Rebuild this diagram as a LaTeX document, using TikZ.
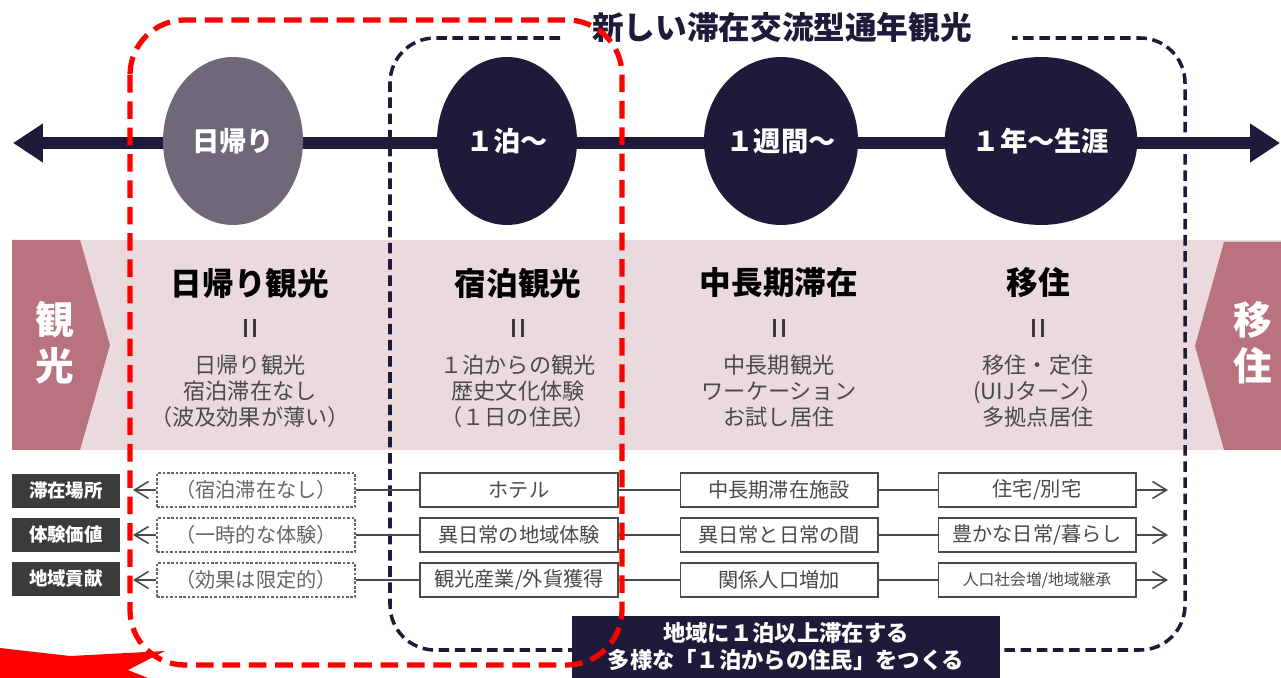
\documentclass[tikz,border=0pt]{standalone}
\usepackage{fontspec}
\setmainfont{Noto Sans CJK JP}
\usetikzlibrary{positioning,shapes.geometric,arrows.meta}

\definecolor{navy}{HTML}{1E1B3A}
\definecolor{dusk}{HTML}{6E6878}
\definecolor{band}{HTML}{EADADE}
\definecolor{rose}{HTML}{B8737F}
\definecolor{tag}{HTML}{3B3B3B}
\definecolor{ink}{HTML}{4A4A4A}

\newcommand{\eqbar}{\rule{1.6pt}{10pt}\hspace{3.6pt}\rule{1.6pt}{10pt}}

\begin{document}
\begin{tikzpicture}
    [x = 0.02cm, y = -0.02cm,
     stage/.style = {ellipse, fill = navy, minimum width = 2.8cm, minimum height = 3.36cm,
       inner sep = 0pt, text = white, font = \fontsize{15.5}{18}\selectfont\bfseries},
     head/.style = {text = black, font = \fontsize{18}{21}\selectfont\bfseries},
     eqsign/.style = {text = tag, inner sep = 0pt},
     desc/.style = {align = center, text = ink, font = \fontsize{12.6}{14.8}\selectfont},
     side/.style = {align = center, text = white, font = \fontsize{22}{26}\selectfont\bfseries},
     tagbox/.style = {fill = tag, text = white, minimum width = 2.16cm, minimum height = 0.68cm,
       inner sep = 0pt, font = \fontsize{10.5}{12}\selectfont\bfseries},
     cell/.style = {draw = ink, line width = 0.6pt, fill = white, minimum width = 3.96cm,
       minimum height = 0.68cm, inner sep = 0pt, text = ink, font = \fontsize{11.5}{13}\selectfont},
     ghost/.style = {cell, draw = gray!80!black, dash pattern = on 1.5pt off 1pt, text = gray!80!black},
     link/.style = {draw = ink, line width = 0.9pt},
     barb/.style = {-{Straight Barb[length = 2.8mm, width = 3.4mm]}},
     banner/.style = {fill = navy, text = white, align = center, minimum width = 8.56cm,
       minimum height = 1.26cm, inner sep = 0pt, font = \fontsize{12.7}{15.4}\selectfont\bfseries}]
    \useasboundingbox (0,0) rectangle (1281,678);

    % pink band and side chevrons
    \fill[band] (12,240) rectangle (1281,450);
    \fill[rose] (12,240) -- (80,240) -- (110,345) -- (80,450) -- (12,450) -- cycle;
    \fill[rose] (1224,242) -- (1281,242) -- (1281,450) -- (1224,450) -- (1195,346) -- cycle;
    \node[side] (tour) at (55,343) {観\\光};
    \node[side] (move) at (1253,343) {移\\住};

    % timeline
    \coordinate (west) at (13,143);
    \coordinate (east) at (1280,143);
    \draw[navy, line width = 6.5pt,
      {Triangle[length = 0.6cm, width = 0.74cm]}-{Triangle[length = 0.6cm, width = 0.74cm]}]
      (west) -- (east);
    \node[stage, fill = dusk] (day) at (233,141) {日帰り};
    \node[stage] (night) at (507,141) {１泊〜};
    \node[stage] (week) at (781,141) {１週間〜};
    \node[stage] (year) at (1041,141) {１年〜生涯};

    % new style box
    \node[text = navy, font = \fontsize{18}{21}\selectfont\bfseries] (title) at (782,27)
      {新しい滞在交流型通年観光};
    \draw[navy, line width = 2pt, dash pattern = on 6pt off 3.2pt, rounded corners = 0.9cm]
      (560,38) -| (390,650) -| (1185,38) -- (1012,38);

    % columns
    \node[head] (h1) at (250,283) {日帰り観光};
    \node[head] (h2) at (518,283) {宿泊観光};
    \node[head] (h3) at (779,283) {中長期滞在};
    \node[head] (h4) at (1038,283) {移住};
    \foreach \n/\x in {1/250,2/518,3/779,4/1038}
      \node[eqsign] (eq\n) at (\x,328) {\eqbar};
    \node[desc] (d1) at (250,391) {日帰り観光\\宿泊滞在なし\\（波及効果が薄い）};
    \node[desc] (d2) at (518,391) {１泊からの観光\\歴史文化体験\\（１日の住民）};
    \node[desc] (d3) at (779,391) {中長期観光\\ワーケーション\\お試し居住};
    \node[desc] (d4) at (1038,391) {移住・定住\\(UIJターン）\\多拠点居住};

    % rows
    \node[tagbox] (tag1) at (66,491) {滞在場所};
    \node[tagbox] (tag2) at (66,535) {体験価値};
    \node[tagbox] (tag3) at (66,579) {地域貢献};

    \node[ghost] (c11) at (256,490) {（宿泊滞在なし）};
    \node[ghost] (c21) at (256,535) {（一時的な体験）};
    \node[ghost] (c31) at (256,580) {（効果は限定的）};
    \node[cell] (c12) at (519,490) {ホテル};
    \node[cell] (c22) at (519,535) {異日常の地域体験};
    \node[cell] (c32) at (519,580) {観光産業/外貨獲得};
    \node[cell] (c13) at (779,490) {中長期滞在施設};
    \node[cell] (c23) at (779,535) {異日常と日常の間};
    \node[cell] (c33) at (779,580) {関係人口増加};
    \node[cell] (c14) at (1037,490) {住宅/別宅};
    \node[cell] (c24) at (1037,535) {豊かな日常/暮らし};
    \node[cell, font = \fontsize{9}{11}\selectfont] (c34) at (1037,580) {人口社会増/地域継承};

    \foreach \r/\y in {1/490,2/535,3/580} {
      \coordinate (wl\r) at (133,\y);
      \coordinate (el\r) at (1168,\y);
      \draw[link] (c\r1) -- (c\r2);
      \draw[link] (c\r2) -- (c\r3);
      \draw[link] (c\r3) -- (c\r4);
      \draw[link, barb] (c\r1) -- (wl\r);
      \draw[link, barb] (c\r4) -- (el\r);
    }

    \node[banner] (goal) at (786,647) {地域に１泊以上滞在する\\多様な「１泊からの住民」をつくる};

    % red frame and pointer
    \draw[red, line width = 3pt, dash pattern = on 10pt off 5pt, rounded corners = 1.1cm]
      (130,20) rectangle (622,665);
    \fill[red] (0,648) -- (70,656) -- (165,651) -- (128,670) -- (148,678) -- (0,678) -- cycle;
  \end{tikzpicture}
\end{document}
